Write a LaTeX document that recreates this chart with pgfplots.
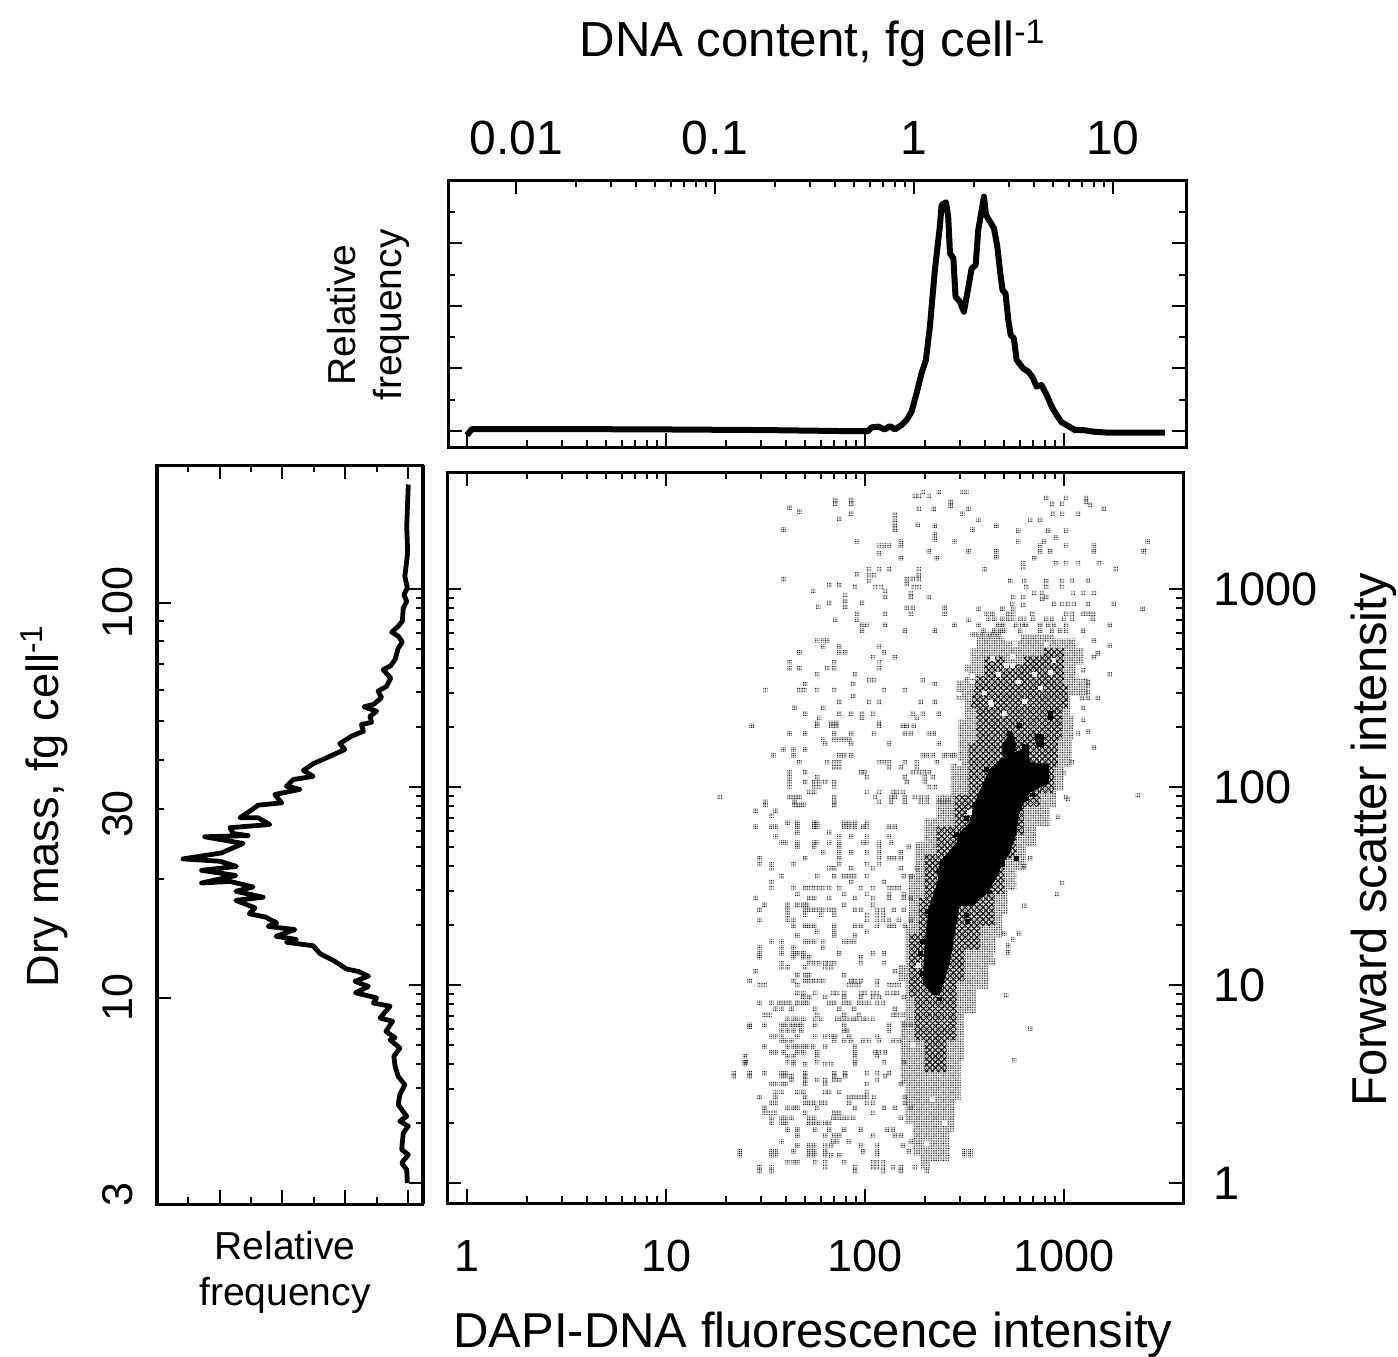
\documentclass[border=0pt]{standalone}
\usepackage{fontspec}
\setmainfont{Liberation Sans}
\usepackage{pgfplots}
\usepackage{pgfplotstable}
\usetikzlibrary{patterns.meta}
\pgfplotsset{compat=1.18}
% one histogram cell, printed as a small halftone of dots
\pgfdeclareplotmark{cell}{%
  \pgfpathrectangle{\pgfpoint{-1.075pt}{-1.075pt}}{\pgfpoint{0.45pt}{0.45pt}}%
  \pgfpathrectangle{\pgfpoint{-0.225pt}{-1.075pt}}{\pgfpoint{0.45pt}{0.45pt}}%
  \pgfpathrectangle{\pgfpoint{0.625pt}{-1.075pt}}{\pgfpoint{0.45pt}{0.45pt}}%
  \pgfpathrectangle{\pgfpoint{-1.075pt}{-0.225pt}}{\pgfpoint{0.45pt}{0.45pt}}%
  \pgfpathrectangle{\pgfpoint{-0.225pt}{-0.225pt}}{\pgfpoint{0.45pt}{0.45pt}}%
  \pgfpathrectangle{\pgfpoint{0.625pt}{-0.225pt}}{\pgfpoint{0.45pt}{0.45pt}}%
  \pgfpathrectangle{\pgfpoint{-1.075pt}{0.625pt}}{\pgfpoint{0.45pt}{0.45pt}}%
  \pgfpathrectangle{\pgfpoint{-0.225pt}{0.625pt}}{\pgfpoint{0.45pt}{0.45pt}}%
  \pgfpathrectangle{\pgfpoint{0.625pt}{0.625pt}}{\pgfpoint{0.45pt}{0.45pt}}%
  \pgfusepathqfill}
\pgfdeclareplotmark{solidcell}{%
  \pgfpathrectangle{\pgfpoint{-1.2pt}{-1.2pt}}{\pgfpoint{2.4pt}{2.4pt}}\pgfusepathqfill}
% scattered cells of the cytogram: log10 DAPI intensity, log10 forward scatter
\pgfplotstableread[row sep=crcr]{
x y\\
2.29 3.49\\ 2.37 3.49\\ 2.49 3.49\\ 2.51 3.49\\ 2.25 3.47\\ 2.27 3.47\\ 2.32 3.47\\
1.85 3.45\\ 1.85 3.43\\ 1.93 3.45\\ 1.93 3.43\\ 2.43 3.44\\ 2.43 3.42\\
1.62 3.41\\ 1.67 3.39\\ 1.93 3.38\\ 2.27 3.405\\ 2.345 3.405\\ 2.49 3.38\\ 2.52 3.405\\
2.15 3.375\\ 2.15 3.35\\ 2.15 3.325\\ 2.15 3.30\\ 1.87 3.355\\ 2.265 3.325\\ 2.35 3.32\\ 2.57 3.35\\ 2.54 3.30\\ 2.66 3.32\\
1.59 3.30\\ 1.96 3.24\\ 2.07 3.22\\ 2.095 3.22\\ 2.12 3.22\\ 2.18 3.24\\ 2.18 3.22\\ 2.35 3.275\\ 2.35 3.25\\ 2.45 3.24\\
2.07 3.18\\ 2.32 3.19\\ 2.52 3.19\\ 2.18 3.155\\ 2.36 3.155\\ 2.66 3.19\\ 2.66 3.16\\
2.77 3.295\\ 2.83 3.35\\ 2.88 3.35\\ 2.91 3.46\\ 3.01 3.46\\ 3.11 3.46\\ 3.11 3.44\\ 3.13 3.425\\ 2.94 3.43\\ 2.99 3.43\\ 2.945 3.38\\ 2.99 3.38\\ 3.07 3.38\\ 3.20 3.405\\
2.92 3.295\\ 3.01 3.295\\ 2.96 3.26\\ 2.77 3.24\\ 2.90 3.24\\ 2.88 3.22\\ 2.88 3.19\\ 2.93 3.19\\ 3.01 3.22\\ 3.15 3.22\\ 3.15 3.19\\ 3.42 3.24\\ 3.40 3.19\\
2.795 3.13\\ 2.795 3.11\\ 2.96 3.13\\ 3.01 3.13\\ 3.07 3.13\\ 3.175 3.13\\ 3.26 3.10\\ 2.60 3.10\\ 2.85 3.155\\
2.02 3.10\\ 2.07 3.10\\ 2.12 3.10\\ 2.27 3.10\\ 2.02 3.07\\ 2.045 3.07\\ 1.96 3.075\\ 2.27 3.07\\
2.02 3.04\\ 2.21 3.05\\ 2.24 3.05\\ 2.27 3.05\\ 1.59 3.05\\ 2.05 3.01\\ 2.08 3.01\\ 2.21 3.025\\ 2.245 3.01\\ 2.27 3.01\\ 1.82 3.02\\ 1.87 3.02\\ 1.95 3.01\\ 1.74 2.99\\ 2.10 2.99\\ 1.90 2.97\\ 1.90 2.94\\ 2.10 2.96\\ 2.23 2.98\\ 2.23 2.96\\ 2.32 2.96\\
1.82 2.93\\ 1.765 2.91\\ 1.90 2.91\\ 1.985 2.93\\ 2.21 2.905\\ 2.24 2.905\\ 2.40 2.905\\ 2.40 2.875\\ 2.23 2.875\\ 2.10 2.875\\ 1.85 2.845\\ 1.96 2.875\\ 1.96 2.845\\ 1.985 2.82\\ 2.01 2.82\\ 2.10 2.82\\ 1.985 2.79\\ 2.20 2.79\\ 2.35 2.79\\ 2.45 2.82\\ 2.52 2.845\\
2.73 3.04\\ 2.80 3.04\\ 2.81 3.01\\ 2.91 3.04\\ 2.91 3.01\\ 2.99 3.04\\ 2.99 3.01\\ 3.04 3.04\\ 3.12 3.04\\
2.85 2.98\\ 2.89 2.98\\ 3.045 2.98\\ 3.095 2.98\\ 3.15 2.98\\
2.745 2.96\\ 2.795 2.96\\ 2.795 2.92\\ 2.74 2.925\\ 2.89 2.95\\ 2.91 2.96\\ 2.95 2.925\\ 2.99 2.925\\ 3.02 2.925\\ 3.05 2.925\\ 3.12 2.925\\ 3.25 2.925\\ 3.395 2.90\\ 2.57 2.90\\ 2.69 2.90\\ 2.745 2.90\\
2.61 2.875\\ 2.64 2.875\\ 2.72 2.875\\ 2.745 2.875\\ 2.84 2.875\\ 3.01 2.875\\ 3.04 2.875\\ 3.095 2.875\\ 3.12 2.875\\ 3.145 2.875\\
2.62 2.85\\ 2.65 2.85\\ 2.69 2.85\\ 2.72 2.85\\ 2.745 2.85\\ 2.78 2.85\\ 2.80 2.85\\ 2.845 2.85\\ 2.91 2.85\\ 2.94 2.85\\ 3.00 2.85\\ 3.04 2.85\\ 3.145 2.85\\
2.57 2.82\\ 2.67 2.82\\ 2.695 2.82\\ 2.76 2.82\\ 2.79 2.82\\ 2.81 2.82\\ 2.88 2.82\\ 2.92 2.82\\ 2.95 2.82\\ 3.01 2.82\\ 3.23 2.82\\
2.595 2.79\\ 2.65 2.79\\ 2.68 2.79\\ 2.70 2.79\\ 2.78 2.79\\ 2.88 2.79\\ 2.94 2.79\\ 2.98 2.79\\ 3.01 2.79\\ 3.095 2.79\\
2.54 2.77\\ 2.56 2.77\\ 2.59 2.77\\ 2.62 2.77\\ 2.645 2.77\\ 2.67 2.77\\
3.15 2.74\\ 3.23 2.715\\ 3.17 2.675\\ 3.15 2.655\\ 3.095 2.59\\ 3.23 2.57\\ 3.12 2.53\\ 3.12 2.51\\ 3.12 2.48\\ 3.09 2.45\\ 3.12 2.45\\ 3.17 2.45\\ 3.095 2.40\\ 3.095 2.34\\ 3.12 2.28\\ 3.07 2.27\\ 3.15 2.20\\ 3.04 2.125\\ 3.00 2.07\\ 3.01 1.95\\
1.76 2.74\\ 1.79 2.74\\ 1.81 2.74\\ 1.79 2.71\\ 1.87 2.71\\ 2.07 2.71\\ 1.67 2.68\\ 1.87 2.68\\ 1.90 2.68\\ 2.095 2.68\\ 2.04 2.655\\ 2.15 2.655\\
1.62 2.63\\ 1.845 2.63\\ 2.07 2.63\\ 1.62 2.60\\ 1.67 2.60\\ 1.81 2.60\\ 1.845 2.60\\ 2.07 2.60\\ 1.76 2.57\\ 1.95 2.57\\ 2.02 2.54\\ 2.045 2.54\\ 2.29 2.54\\ 1.70 2.52\\ 1.94 2.52\\ 2.35 2.52\\
1.50 2.49\\ 1.67 2.49\\ 1.695 2.49\\ 1.76 2.49\\ 1.845 2.49\\ 2.095 2.49\\ 2.20 2.49\\ 1.94 2.46\\ 1.87 2.43\\ 2.02 2.43\\ 2.07 2.43\\ 2.28 2.43\\ 2.35 2.43\\ 1.645 2.40\\ 1.79 2.40\\
1.70 2.37\\ 1.87 2.37\\ 1.93 2.37\\ 1.985 2.37\\ 2.04 2.37\\ 2.24 2.37\\ 2.29 2.37\\ 2.37 2.37\\ 1.77 2.35\\ 1.985 2.35\\ 2.26 2.35\\ 1.76 2.325\\ 1.83 2.325\\ 1.855 2.325\\ 2.07 2.325\\
1.43 2.31\\ 1.76 2.31\\ 1.83 2.31\\ 1.855 2.31\\ 2.07 2.31\\ 2.19 2.31\\ 2.21 2.31\\ 2.245 2.31\\
1.62 2.27\\ 1.70 2.27\\ 1.845 2.27\\ 1.93 2.27\\ 2.045 2.27\\ 2.20 2.27\\ 2.23 2.27\\ 2.32 2.27\\ 2.345 2.27\\ 1.79 2.24\\ 1.845 2.24\\ 1.87 2.24\\ 1.895 2.24\\ 1.92 2.24\\ 1.80 2.22\\ 1.93 2.22\\ 2.12 2.22\\ 2.37 2.22\\
1.59 2.19\\ 1.64 2.19\\ 1.70 2.19\\ 1.54 2.16\\ 1.64 2.16\\ 1.87 2.16\\ 1.895 2.16\\ 1.93 2.16\\ 2.29 2.16\\ 2.31 2.16\\ 2.34 2.16\\ 2.40 2.16\\ 2.43 2.16\\ 2.45 2.16\\
1.67 2.125\\ 1.81 2.125\\ 1.845 2.125\\ 1.87 2.125\\ 2.07 2.125\\ 2.095 2.125\\ 2.12 2.125\\ 2.20 2.125\\ 2.26 2.125\\ 2.36 2.125\\ 1.845 2.10\\ 1.87 2.10\\ 2.12 2.10\\ 2.18 2.10\\ 2.26 2.10\\
1.62 2.075\\ 1.70 2.075\\ 1.98 2.075\\ 2.00 2.075\\ 2.24 2.075\\ 2.27 2.075\\ 2.295 2.075\\ 2.32 2.075\\ 1.62 2.05\\ 1.76 2.05\\ 2.01 2.05\\ 2.20 2.05\\ 2.30 2.05\\ 2.34 2.05\\
1.62 2.025\\ 1.70 2.025\\ 1.745 2.025\\ 1.77 2.025\\ 1.80 2.025\\ 1.845 2.025\\ 2.21 2.025\\ 2.30 2.025\\ 1.62 2.00\\ 1.745 2.00\\ 1.77 2.00\\ 1.845 2.00\\ 2.32 2.00\\ 2.35 2.00\\
1.72 1.975\\ 1.745 1.975\\ 2.01 1.975\\ 2.07 1.975\\ 2.14 1.975\\ 2.16 1.975\\ 2.19 1.975\\ 1.62 1.95\\ 1.645 1.95\\ 1.67 1.95\\ 1.845 1.95\\ 2.05 1.95\\ 2.13 1.95\\ 2.15 1.95\\ 2.20 1.95\\ 2.25 1.95\\ 2.28 1.95\\ 2.31 1.95\\
1.50 1.925\\ 1.645 1.925\\ 1.845 1.925\\ 2.07 1.925\\ 2.13 1.925\\ 2.20 1.925\\ 2.28 1.925\\ 2.31 1.925\\ 2.37 1.925\\ 2.395 1.925\\ 2.42 1.925\\
1.50 1.91\\ 1.645 1.91\\ 1.67 1.91\\ 1.69 1.91\\ 1.845 1.91\\
1.45 1.88\\ 1.55 1.88\\ 1.53 1.855\\
1.61 1.82\\ 1.66 1.82\\ 1.745 1.82\\ 1.76 1.82\\ 1.895 1.82\\ 1.92 1.82\\ 1.95 1.82\\ 2.01 1.82\\
1.45 1.80\\ 1.53 1.80\\ 1.55 1.80\\ 1.66 1.80\\ 1.745 1.80\\ 1.76 1.80\\ 1.895 1.80\\ 1.92 1.80\\ 1.95 1.80\\ 1.99 1.80\\ 2.01 1.80\\ 2.12 1.80\\ 2.15 1.80\\
1.66 1.77\\ 1.82 1.77\\ 1.55 1.75\\ 1.87 1.75\\ 1.93 1.75\\ 2.01 1.75\\ 2.12 1.75\\
1.58 1.72\\ 1.60 1.72\\ 1.66 1.72\\ 1.745 1.72\\ 1.76 1.72\\ 1.82 1.72\\ 1.87 1.72\\ 1.99 1.72\\ 2.01 1.72\\ 2.07 1.72\\ 2.13 1.72\\
1.66 1.70\\ 1.745 1.70\\ 1.87 1.70\\ 2.07 1.70\\ 2.22 1.70\\
1.79 1.67\\ 1.87 1.67\\ 1.93 1.67\\ 2.01 1.67\\ 2.07 1.67\\ 2.18 1.67\\
1.47 1.64\\ 1.70 1.64\\ 1.87 1.64\\ 2.07 1.64\\ 2.12 1.64\\ 2.145 1.64\\ 2.18 1.64\\
1.47 1.61\\ 1.53 1.61\\ 1.64 1.61\\ 1.87 1.61\\ 2.01 1.61\\ 2.07 1.61\\
1.53 1.59\\ 1.82 1.59\\ 1.845 1.59\\ 1.93 1.59\\ 2.04 1.59\\ 2.18 1.59\\ 2.26 1.59\\
1.58 1.55\\ 1.76 1.55\\ 1.845 1.55\\ 1.895 1.55\\ 1.92 1.55\\ 1.945 1.55\\ 2.01 1.55\\ 2.195 1.55\\ 2.23 1.55\\
1.53 1.52\\ 1.93 1.52\\ 2.095 1.52\\
1.53 1.49\\ 1.64 1.49\\ 1.70 1.49\\ 1.72 1.49\\ 1.745 1.49\\ 1.77 1.49\\ 1.79 1.49\\ 1.82 1.49\\ 1.87 1.49\\ 1.98 1.49\\ 2.04 1.49\\ 2.12 1.49\\ 2.145 1.49\\ 2.17 1.49\\
1.66 1.46\\ 1.895 1.46\\ 2.01 1.46\\ 2.12 1.46\\ 2.195 1.46\\
1.45 1.44\\ 1.72 1.44\\ 1.745 1.44\\ 1.82 1.44\\ 1.95 1.44\\ 2.04 1.44\\ 2.12 1.44\\ 2.195 1.44\\ 2.23 1.44\\
1.495 1.405\\ 1.61 1.405\\ 1.66 1.405\\ 1.69 1.405\\ 1.71 1.405\\ 1.895 1.405\\ 2.04 1.405\\
1.47 1.38\\ 1.61 1.38\\ 1.70 1.38\\ 1.72 1.38\\ 1.745 1.38\\ 1.77 1.38\\ 1.79 1.38\\ 1.82 1.38\\ 1.845 1.38\\ 1.95 1.38\\ 1.98 1.38\\ 2.06 1.38\\ 2.09 1.38\\ 2.145 1.38\\ 2.195 1.38\\
1.61 1.355\\ 1.70 1.355\\ 1.78 1.355\\ 1.845 1.355\\ 2.01 1.355\\ 2.06 1.355\\ 2.09 1.355\\
1.47 1.33\\ 1.61 1.33\\ 1.64 1.33\\ 2.01 1.33\\ 2.06 1.33\\ 2.09 1.33\\ 2.12 1.33\\ 2.17 1.33\\ 2.23 1.33\\
1.64 1.30\\ 1.70 1.30\\ 1.72 1.30\\ 1.745 1.30\\ 1.845 1.30\\ 1.95 1.30\\ 1.98 1.30\\ 2.06 1.30\\ 2.12 1.30\\ 2.145 1.30\\ 2.20 1.30\\
1.76 1.27\\ 1.845 1.27\\ 2.01 1.27\\ 1.66 1.25\\ 1.845 1.25\\ 1.95 1.25\\
1.53 1.22\\ 1.58 1.22\\ 1.70 1.22\\ 1.72 1.22\\ 1.745 1.22\\ 1.79 1.22\\ 1.895 1.22\\ 1.92 1.22\\ 1.945 1.22\\
1.47 1.19\\ 1.58 1.19\\ 1.64 1.19\\ 1.79 1.19\\
1.47 1.16\\ 1.58 1.16\\ 1.64 1.16\\ 1.66 1.16\\ 1.69 1.16\\ 1.87 1.16\\ 2.04 1.16\\ 2.095 1.16\\
1.47 1.14\\ 1.64 1.14\\ 1.69 1.14\\ 1.72 1.14\\ 1.98 1.14\\
1.58 1.11\\ 1.72 1.11\\ 1.745 1.11\\ 1.77 1.11\\ 1.80 1.11\\ 1.82 1.11\\ 1.845 1.11\\ 1.98 1.11\\ 2.095 1.11\\
1.58 1.09\\ 1.61 1.09\\ 1.70 1.09\\ 1.80 1.09\\ 1.83 1.09\\ 1.45 1.07\\ 2.15 1.07\\
1.66 1.05\\ 1.70 1.05\\ 1.72 1.05\\ 1.895 1.05\\
1.42 1.02\\ 1.64 1.02\\ 1.70 1.02\\ 1.72 1.02\\ 1.745 1.02\\ 1.77 1.02\\ 1.79 1.02\\ 1.93 1.02\\ 1.95 1.02\\ 1.98 1.02\\ 2.06 1.02\\
1.47 1.00\\ 1.495 1.00\\ 1.66 1.00\\ 1.92 1.00\\ 1.945 1.00\\ 1.97 1.00\\ 2.06 1.00\\ 2.12 1.00\\ 2.145 1.00\\ 2.17 1.00\\
1.66 .96\\ 1.69 .96\\ 1.75 .96\\ 1.84 .96\\ 1.86 .96\\ 1.895 .96\\ 1.98 .96\\ 2.00 .96\\ 2.04 .96\\ 2.06 .96\\ 2.11 .96\\ 2.14 .96\\ 2.16 .96\\
1.69 .94\\ 1.72 .94\\ 1.80 .94\\ 1.895 .94\\ 1.98 .94\\ 2.04 .94\\ 2.07 .94\\ 2.195 .94\\
1.47 .91\\ 1.53 .91\\ 1.57 .91\\ 1.595 .91\\ 1.62 .91\\ 1.66 .91\\ 1.69 .91\\ 1.71 .91\\ 1.82 .91\\ 1.845 .91\\ 1.895 .91\\ 1.92 .91\\ 1.97 .91\\ 1.995 .91\\ 2.02 .91\\ 2.06 .91\\ 2.09 .91\\
1.55 .88\\ 1.58 .88\\ 1.63 .88\\ 1.75 .88\\ 1.87 .88\\ 1.945 .88\\ 2.15 .88\\
1.495 .85\\ 1.52 .85\\ 1.76 .85\\ 1.895 .85\\ 1.97 .85\\ 2.14 .85\\ 2.16 .85\\ 2.19 .85\\
1.61 .83\\ 1.64 .83\\ 1.66 .83\\ 1.69 .83\\ 1.75 .83\\ 1.78 .83\\ 1.86 .83\\ 1.885 .83\\ 1.91 .83\\ 1.94 .83\\ 1.96 .83\\ 1.99 .83\\ 2.01 .83\\ 2.04 .83\\
1.42 .80\\ 1.495 .80\\ 1.58 .80\\ 1.60 .80\\ 1.63 .80\\ 1.655 .80\\ 1.68 .80\\ 1.75 .80\\ 1.895 .80\\ 2.12 .80\\ 2.20 .80\\ 2.23 .80\\
1.58 .77\\ 1.61 .77\\ 1.64 .77\\ 1.68 .77\\ 1.895 .77\\ 1.91 .77\\ 2.12 .77\\
1.53 .74\\ 1.55 .74\\ 1.58 .74\\ 1.66 .74\\ 1.75 .74\\ 1.80 .74\\ 1.83 .74\\ 1.85 .74\\ 1.92 .74\\ 2.06 .74\\
1.58 .72\\ 1.60 .72\\ 1.63 .72\\ 1.845 .72\\ 1.895 .72\\ 1.93 .72\\ 1.99 .72\\ 2.02 .72\\ 2.07 .72\\ 2.14 .72\\ 2.17 .72\\
1.495 .69\\ 1.61 .69\\ 1.64 .69\\ 1.66 .69\\ 1.69 .69\\ 1.71 .69\\ 1.74 .69\\ 1.80 .69\\ 1.95 .69\\
1.53 .66\\ 1.55 .66\\ 1.59 .66\\ 1.66 .66\\ 1.69 .66\\ 1.76 .66\\ 1.95 .66\\ 2.05 .66\\ 2.07 .66\\ 2.10 .66\\
1.395 .64\\ 1.61 .64\\ 1.64 .64\\ 1.76 .64\\ 1.95 .64\\ 2.06 .64\\
1.395 .61\\ 1.61 .61\\ 1.64 .61\\ 1.76 .61\\ 1.95 .61\\ 2.095 .61\\ 2.195 .61\\
1.395 .60\\ 1.64 .60\\ 1.70 .60\\ 1.80 .60\\ 1.83 .60\\ 1.95 .60\\
1.34 .555\\ 1.42 .555\\ 1.495 .555\\ 1.58 .555\\ 1.60 .555\\ 1.70 .555\\ 1.845 .555\\ 1.90 .555\\ 2.01 .555\\ 2.06 .555\\ 2.12 .555\\
1.58 .54\\ 1.60 .54\\ 1.63 .54\\ 1.70 .54\\ 1.845 .54\\ 1.90 .54\\ 2.10 .54\\
1.63 .52\\ 1.70 .52\\ 1.76 .52\\ 1.80 .52\\ 1.845 .52\\ 1.87 .52\\ 2.06 .52\\
1.53 .50\\ 1.55 .50\\ 1.58 .50\\ 1.60 .50\\ 1.70 .50\\ 1.80 .50\\ 2.01 .50\\ 2.18 .50\\
1.55 .46\\ 1.58 .46\\ 1.66 .46\\ 1.69 .46\\ 1.80 .46\\ 1.82 .46\\ 1.87 .46\\ 2.01 .46\\
1.47 .435\\ 1.55 .435\\ 1.70 .435\\ 1.92 .435\\ 1.945 .435\\ 1.97 .435\\ 1.995 .435\\ 2.01 .435\\ 2.045 .435\\ 2.20 .435\\
1.53 .405\\ 1.55 .405\\ 1.70 .405\\ 1.72 .405\\ 1.745 .405\\ 1.78 .405\\ 1.80 .405\\ 1.92 .405\\ 2.01 .405\\ 2.04 .405\\ 2.20 .405\\
1.495 .38\\ 1.61 .38\\ 1.64 .38\\ 1.66 .38\\ 1.76 .38\\ 1.95 .38\\ 2.095 .38\\ 2.15 .38\\ 2.23 .38\\
1.495 .355\\ 1.52 .355\\ 1.545 .355\\ 1.70 .355\\ 1.845 .355\\ 1.87 .355\\ 2.04 .355\\
1.53 .33\\ 1.58 .33\\ 1.60 .33\\ 1.63 .33\\ 1.72 .33\\ 1.745 .33\\ 1.84 .33\\ 1.86 .33\\ 1.885 .33\\ 1.91 .33\\ 1.94 .33\\ 2.18 .33\\
1.53 .305\\ 1.58 .305\\ 1.60 .305\\ 1.72 .305\\ 1.745 .305\\ 1.77 .305\\ 1.80 .305\\ 1.82 .305\\
1.61 .27\\ 1.66 .27\\ 1.75 .27\\ 1.82 .27\\ 1.895 .27\\ 1.98 .27\\ 2.11 .27\\ 2.14 .27\\
1.66 .24\\ 1.80 .24\\ 1.845 .24\\ 1.87 .24\\ 2.04 .24\\ 2.15 .24\\ 2.18 .24\\
1.58 .21\\ 1.84 .21\\ 1.86 .21\\ 1.92 .21\\ 2.23 .21\\
1.66 .19\\ 1.72 .19\\ 1.745 .19\\ 1.80 .19\\ 1.83 .19\\ 1.98 .19\\ 2.06 .19\\ 2.19 .19\\
1.37 .16\\ 1.53 .16\\ 1.55 .16\\ 1.64 .16\\ 1.72 .16\\ 1.745 .16\\ 1.80 .16\\ 1.99 .16\\ 2.06 .16\\ 2.22 .16\\ 2.50 .16\\ 2.53 .16\\
1.37 .14\\ 1.53 .14\\ 1.55 .14\\ 1.72 .14\\ 1.745 .14\\ 1.80 .14\\ 1.83 .14\\ 1.87 .14\\ 2.06 .14\\ 2.50 .14\\ 2.53 .14\\
1.61 .105\\ 1.64 .105\\ 1.66 .105\\ 1.75 .105\\ 1.80 .105\\ 1.895 .105\\ 2.04 .105\\ 2.06 .105\\ 2.09 .105\\
1.47 .08\\ 1.53 .08\\ 1.80 .08\\ 1.95 .08\\ 2.04 .08\\ 2.06 .08\\ 2.09 .08\\ 2.14 .08\\ 2.18 .08\\ 2.25 .08\\
1.47 .06\\ 1.53 .06\\ 1.95 .06\\ 2.09 .06\\ 2.18 .06\\ 2.31 .06\\
3.37 1.96\\ 3.02 1.94\\ 2.97 1.85\\ 2.99 1.515\\ 2.965 1.46\\ 2.80 1.40\\ 2.83 1.64\\ 2.80 1.60\\ 2.70 1.26\\ 2.775 1.26\\ 2.745 1.23\\ 2.72 1.20\\ 2.72 1.165\\ 2.71 .95\\ 2.83 .78\\ 2.75 .62\\
1.27 1.95\\ 1.42 .79\\ 1.40 .61\\ 1.34 .54\\ 1.42 .54\\
}\cellsTable
% outlines of the regions of increasing density (log10 units)
\pgfplotstableread[row sep=crcr]{
x y\\
2.50 2.62\\ 2.53 2.62\\ 2.53 2.70\\ 2.56 2.70\\ 2.56 2.76\\ 2.70 2.76\\ 2.70 2.74\\ 2.78 2.74\\ 2.78 2.77\\ 2.95 2.77\\ 2.95 2.75\\ 3.06 2.75\\ 3.06 2.70\\ 3.10 2.70\\ 3.10 2.62\\ 3.06 2.62\\ 3.06 2.55\\ 3.12 2.55\\ 3.12 2.46\\ 3.03 2.46\\ 3.03 2.36\\ 3.05 2.36\\ 3.05 2.24\\ 3.04 2.24\\ 3.04 2.10\\ 3.00 2.10\\ 3.00 1.98\\ 2.96 1.98\\ 2.96 1.90\\ 2.93 1.90\\ 2.93 1.80\\ 2.86 1.80\\ 2.86 1.70\\ 2.81 1.70\\ 2.81 1.58\\ 2.76 1.58\\ 2.76 1.48\\ 2.72 1.48\\ 2.72 1.36\\ 2.69 1.36\\ 2.69 1.24\\ 2.66 1.24\\ 2.66 1.10\\ 2.62 1.10\\ 2.62 .98\\ 2.56 .98\\ 2.56 .86\\ 2.50 .86\\ 2.50 .62\\ 2.48 .62\\ 2.48 .42\\ 2.45 .42\\ 2.45 .26\\ 2.43 .26\\ 2.43 .11\\ 2.33 .11\\ 2.33 .07\\ 2.28 .07\\ 2.28 .14\\ 2.24 .14\\ 2.24 .30\\ 2.20 .30\\ 2.20 .50\\ 2.18 .50\\ 2.18 .82\\ 2.20 .82\\ 2.20 1.02\\ 2.17 1.02\\ 2.17 1.10\\ 2.20 1.10\\ 2.20 1.30\\ 2.22 1.30\\ 2.22 1.56\\ 2.25 1.56\\ 2.25 1.72\\ 2.30 1.72\\ 2.30 1.84\\ 2.36 1.84\\ 2.36 1.96\\ 2.43 1.96\\ 2.43 2.12\\ 2.47 2.12\\ 2.47 2.34\\ 2.50 2.34\\ 2.50 2.44\\ 2.46 2.44\\ 2.46 2.54\\ 2.50 2.54\\
}\lightTable
\pgfplotstableread[row sep=crcr]{
x y\\
2.56 2.56\\ 2.60 2.56\\ 2.60 2.66\\ 2.70 2.66\\ 2.70 2.62\\ 2.80 2.62\\ 2.80 2.66\\ 2.90 2.66\\ 2.90 2.70\\ 3.00 2.70\\ 3.00 2.52\\ 3.02 2.52\\ 3.02 2.40\\ 2.99 2.40\\ 2.99 2.24\\ 2.97 2.24\\ 2.97 2.10\\ 2.95 2.10\\ 2.95 1.97\\ 2.88 1.97\\ 2.88 1.90\\ 2.80 1.90\\ 2.80 1.76\\ 2.76 1.76\\ 2.76 1.64\\ 2.70 1.64\\ 2.70 1.46\\ 2.65 1.46\\ 2.65 1.30\\ 2.58 1.30\\ 2.58 1.18\\ 2.50 1.18\\ 2.50 1.02\\ 2.46 1.02\\ 2.46 .72\\ 2.41 .72\\ 2.41 .56\\ 2.30 .56\\ 2.30 .72\\ 2.25 .72\\ 2.25 .94\\ 2.22 .94\\ 2.22 1.26\\ 2.27 1.26\\ 2.27 1.44\\ 2.30 1.44\\ 2.30 1.66\\ 2.36 1.66\\ 2.36 1.80\\ 2.45 1.80\\ 2.45 1.96\\ 2.52 1.96\\ 2.52 2.22\\ 2.56 2.22\\ 2.56 2.40\\ 2.53 2.40\\
}\midTable
\pgfplotstableread[row sep=crcr]{
x y\\
2.66 2.12\\ 2.71 2.16\\ 2.79 2.19\\ 2.84 2.12\\ 2.925 2.12\\ 2.925 2.02\\ 2.825 1.97\\ 2.775 1.87\\ 2.76 1.76\\ 2.725 1.66\\ 2.69 1.61\\ 2.66 1.54\\ 2.61 1.46\\ 2.54 1.40\\ 2.475 1.40\\ 2.46 1.31\\ 2.44 1.19\\ 2.425 1.11\\ 2.38 .96\\ 2.34 .95\\ 2.29 1.01\\ 2.30 1.22\\ 2.32 1.39\\ 2.365 1.52\\ 2.375 1.62\\ 2.46 1.72\\ 2.475 1.77\\ 2.525 1.82\\ 2.55 1.92\\ 2.625 2.09\\
}\coreTable
\pgfplotstableread[row sep=crcr]{
x y\\
2.69 2.22\\ 2.74 2.28\\ 2.76 2.215\\ 2.75 2.16\\ 2.69 2.16\\
}\coreA
\pgfplotstableread[row sep=crcr]{
x y\\
2.85 2.27\\ 2.90 2.265\\ 2.90 2.20\\ 2.86 2.21\\
}\coreB
\pgfplotstableread[row sep=crcr]{
x y\\
2.79 2.22\\ 2.825 2.21\\ 2.825 2.14\\ 2.79 2.14\\
}\coreC
% saturated single cells along the edge of the dense core
\pgfplotstableread[row sep=crcr]{
x y\\
2.29 1.22\\ 2.28 1.16\\ 2.29 1.06\\ 2.33 1.01\\ 2.365 .965\\ 2.375 .93\\ 2.35 .96\\ 2.61 2.09\\ 2.55 1.91\\ 2.51 1.84\\ 2.46 1.76\\ 2.39 1.62\\ 2.375 1.58\\ 2.315 1.37\\ 2.69 1.61\\ 2.76 1.64\\ 2.725 1.71\\ 2.81 1.94\\ 2.84 1.96\\ 2.59 1.46\\ 2.625 1.47\\ 2.51 1.35\\ 2.515 1.32\\ 2.81 2.11\\ 2.84 2.11\\ 2.875 2.06\\ 2.91 2.09\\ 2.88 2.215\\ 2.81 2.19\\ 2.775 2.31\\ 2.725 2.27\\ 2.93 2.37\\ 2.93 2.35\\
}\darkTable
\pgfplotstableread[row sep=crcr]{
x y\\
2.54 2.565\\ 2.51 2.57\\ 2.74 2.615\\ 2.71 2.615\\ 2.88 2.50\\ 2.635 2.415\\ 2.475 2.47\\ 2.43 2.42\\ 2.475 2.12\\ 2.525 1.87\\ 2.64 2.65\\ 2.74 2.66\\ 2.63 2.425\\ 2.48 2.57\\ 2.54 2.53\\ 2.80 2.43\\ 2.93 2.58\\ 2.27 1.10\\ 2.24 .70\\ 2.34 .42\\ 2.40 .30\\ 2.31 .20\\ 2.73 1.45\\ 2.66 1.15\\ 2.91 2.72\\ 2.75 2.72\\ 2.95 2.64\\ 2.60 2.475\\ 2.77 2.53\\ 2.49 2.62\\ 2.67 2.57\\ 2.85 2.57\\ 2.70 2.37\\ 2.47 2.42\\
}\holesTable
% DNA histogram: log10 DAPI intensity, relative frequency
\pgfplotstableread[row sep=crcr]{
x y\\
0 -0.13\\ 0.025 0.06\\ 0.6 0.06\\ 1.0 0.05\\ 1.5 0.03\\ 1.874 0\\ 2.016 0\\ 2.033 0.117\\ 2.067 0.14\\ 2.100 0.05\\ 2.125 0.16\\ 2.150 0.05\\ 2.184 0.19\\ 2.209 0.35\\ 2.234 0.62\\ 2.259 1.2\\ 2.284 1.84\\ 2.306 2.27\\ 2.326 3.33\\ 2.351 5.14\\ 2.376 6.53\\ 2.385 7.22\\ 2.407 7.31\\ 2.418 6.85\\ 2.427 5.68\\ 2.444 5.52\\ 2.455 4.29\\ 2.477 4.13\\ 2.497 3.81\\ 2.514 4.4\\ 2.536 5.2\\ 2.556 5.3\\ 2.569 6.42\\ 2.598 7.49\\ 2.608 6.9\\ 2.628 6.69\\ 2.648 6.48\\ 2.665 5.89\\ 2.678 5.14\\ 2.691 4.5\\ 2.706 4.4\\ 2.72 3.55\\ 2.732 3.07\\ 2.748 2.96\\ 2.762 2.27\\ 2.795 2.0\\ 2.820 1.9\\ 2.842 1.72\\ 2.862 1.42\\ 2.887 1.47\\ 2.913 1.15\\ 2.938 0.78\\ 2.963 0.51\\ 2.988 0.28\\ 3.021 0.16\\ 3.055 0.03\\ 3.097 0.03\\ 3.147 -0.02\\ 3.214 -0.05\\ 3.507 -0.05\\
}\dnaTable
% dry-mass histogram: relative frequency, log10 dry mass
\pgfplotstableread[row sep=crcr]{
x y\\
-0.01 2.299\\ 0.02 2.235\\ 0.04 2.193\\ 0.01 2.126\\ 0.10 2.067\\ 0.02 2.037\\ 0.13 2.020\\ 0.04 2.003\\ 0.15 1.986\\ 0.18 1.953\\ 0.31 1.940\\ 0.52 1.925\\ 0.31 1.915\\ 0.18 1.900\\ 0.31 1.885\\ 0.41 1.856\\ 0.55 1.840\\ 0.79 1.830\\ 0.55 1.809\\ 0.68 1.788\\ 0.95 1.776\\ 0.84 1.759\\ 1.10 1.742\\ 1.40 1.736\\ 1.00 1.725\\ 1.21 1.712\\ 1.16 1.697\\ 1.48 1.691\\ 1.42 1.674\\ 1.79 1.662\\ 2.17 1.643\\ 2.01 1.628\\ 2.48 1.611\\ 3.02 1.592\\ 3.33 1.575\\ 3.02 1.560\\ 3.65 1.552\\ 3.87 1.535\\ 3.44 1.527\\ 4.24 1.514\\ 4.02 1.493\\ 4.77 1.487\\ 5.03 1.472\\ 5.35 1.455\\ 4.77 1.455\\ 4.40 1.438\\ 5.67 1.430\\ 5.56 1.415\\ 5.09 1.410\\ 6.47 1.407\\
5.25 1.390\\ 5.94 1.366\\ 7.16 1.351\\ 5.99 1.345\\ 5.46 1.332\\ 6.57 1.322\\ 5.48 1.309\\ 6.57 1.290\\ 5.67 1.294\\ 4.93 1.280\\ 5.48 1.269\\ 4.61 1.254\\ 5.48 1.246\\ 4.87 1.227\\ 5.05 1.212\\ 4.55 1.204\\ 4.18 1.189\\ 4.45 1.180\\ 3.60 1.172\\ 4.20 1.155\\ 3.55 1.147\\ 3.87 1.140\\ 3.02 1.131\\ 2.80 1.111\\ 2.38 1.094\\ 1.95 1.072\\ 1.58 1.066\\ 1.26 1.054\\ 1.69 1.041\\ 1.26 1.028\\ 1.67 1.012\\ 1.00 0.999\\ 1.10 0.986\\ 0.57 0.978\\ 0.89 0.948\\ 0.49 0.940\\ 0.70 0.914\\ 0.41 0.898\\ 0.57 0.893\\ 0.26 0.872\\ 0.45 0.851\\ 0.41 0.826\\ 0.31 0.800\\ 0.10 0.779\\ 0.26 0.754\\ 0.31 0.729\\ 0.04 0.699\\ 0.26 0.687\\ -0.01 0.674\\ 0.15 0.657\\ 0.20 0.615\\ -0.01 0.602\\ 0.20 0.581\\ 0.04 0.564\\ 0.02 0.530\\
}\massTable
\pgfplotsset{
  panel/.style={scale only axis, axis line style={line width=1.5pt},
    tick style={line width=1pt,black}, major tick length=7pt, minor tick length=3.5pt,
    tick align=inside, ticklabel style={font=\fontsize{22.5}{24}\selectfont, inner sep=0pt}},
  table/log10 table/.style={x expr=10^\thisrow{x}, y expr=10^\thisrow{y}},
}
\begin{document}
\begin{tikzpicture}
\useasboundingbox (0,0) rectangle (699pt,-678pt);
% main cytogram
\begin{axis}[panel, at={(223.5pt,-236pt)}, anchor=north west, width=368pt, height=365.5pt,
  xmode=log, ymode=log, xmin=0.793, xmax=3963, ymin=0.793, ymax=3899,
  xtick={1,10,100,1000}, xticklabels={1,10,100,1000}, xtick pos=both, xticklabel pos=bottom,
  ytick={1,10,100,1000}, yticklabels={1,10,100,1000}, ytick pos=both, yticklabel pos=right,
  xticklabel style={anchor=north, yshift=-18.5pt},
  yticklabel style={anchor=west, xshift=15pt, font=\fontsize{23.5}{25}\selectfont}]
\addplot[draw=none, pattern={Dots[distance=0.85pt, radius=0.26pt]}, pattern color=black] table[log10 table] {\lightTable} --cycle;
\addplot[draw=none, pattern={Lines[angle=45, distance=2.1pt, line width=0.42pt]}, pattern color=black] table[log10 table] {\midTable} --cycle;
\addplot[draw=none, pattern={Lines[angle=-45, distance=2.1pt, line width=0.42pt]}, pattern color=black] table[log10 table] {\midTable} --cycle;
\addplot[only marks, white, mark=solidcell] table[log10 table] {\holesTable};
\addplot[fill=black, draw=none] table[log10 table] {\coreTable} --cycle;
\addplot[fill=black, draw=none] table[log10 table] {\coreA} --cycle;
\addplot[fill=black, draw=none] table[log10 table] {\coreB} --cycle;
\addplot[fill=black, draw=none] table[log10 table] {\coreC} --cycle;
\addplot[only marks, black, mark=solidcell] table[log10 table] {\darkTable};
\addplot[only marks, black!85, mark=cell] table[log10 table] {\cellsTable};
\end{axis}
% DNA histogram, lower scale: intensity
\begin{axis}[panel, at={(224pt,-90pt)}, anchor=north west, width=369pt, height=133.5pt,
  xmode=log, xmin=0.803, xmax=4102, ymin=-0.511, ymax=8.02,
  xtick={1,10,100,1000}, xticklabels={}, xtick pos=bottom,
  ytick={0,2,4,6}, minor ytick={1,3,5,7}, yticklabels={}, ytick pos=both]
\addplot[line width=3pt, line join=round, black] table[x expr=10^\thisrow{x}, y=y] {\dnaTable};
\end{axis}
% DNA histogram, upper scale: DNA content
\begin{axis}[panel, at={(224pt,-90pt)}, anchor=north west, width=369pt, height=133.5pt,
  xmode=log, xmin=0.00455, xmax=23.3, ymin=0, ymax=1, hide y axis,
  xtick={0.01,0.1,1,10}, xticklabels={0.01,0.1,1,10}, xtick pos=top, xticklabel pos=top,
  xticklabel style={anchor=south, yshift=12.5pt, font=\fontsize{24}{26}\selectfont}]
\end{axis}
% dry-mass histogram, left scale: dry mass
\begin{axis}[panel, at={(78.5pt,-232.5pt)}, anchor=north west, width=133pt, height=369.5pt,
  x dir=reverse, xmin=-0.478, xmax=7.99, ymode=log, ymin=3, ymax=223,
  xtick={0,2,4,6}, minor xtick={1,3,5,7}, xticklabels={}, xtick pos=both,
  ytick={10,100}, yticklabels={10,100}, ytick pos=left,
  extra y ticks={3,30}, extra y tick labels={\hspace*{9pt}3,30\hspace*{5pt}},
  extra y tick style={major tick length=3.5pt},
  yticklabel style={xshift=-12pt, rotate=90, anchor=south, font=\fontsize{21.5}{23}\selectfont}]
\addplot[line width=2.4pt, line join=round, black] table[x=x, y expr=10^\thisrow{y}] {\massTable};
\end{axis}
% dry-mass histogram, right scale: forward scatter
\begin{axis}[panel, at={(78.5pt,-232.5pt)}, anchor=north west, width=133pt, height=369.5pt,
  xmin=0, xmax=1, hide x axis, ymode=log, ymin=0.783, ymax=4227,
  ytick={1,10,100,1000}, yticklabels={}, ytick pos=right]
\end{axis}
% axis titles
\node[font=\fontsize{24.6}{26}\selectfont, anchor=base] at (406pt,-28pt) {DNA content, fg cell\raisebox{6.5pt}{\fontsize{17}{17}\selectfont -1}};
\node[font=\fontsize{24.5}{26}\selectfont, anchor=base] at (406.5pt,-673.5pt) {DAPI-DNA fluorescence intensity};
\node[font=\fontsize{24.5}{26}\selectfont, anchor=base, rotate=90] at (693pt,-420pt) {Forward scatter intensity};
\node[font=\fontsize{22.6}{24}\selectfont, anchor=base, rotate=90] at (29pt,-403pt) {Dry mass, fg cell\textsuperscript{-1}};
\node[font=\fontsize{19.5}{22}\selectfont, align=center] at (142.5pt,-636pt) {Relative\\[1pt]frequency};
\node[font=\fontsize{19.5}{22}\selectfont, align=center, rotate=90] at (184pt,-157.5pt) {Relative\\[1pt]frequency};
\end{tikzpicture}
\end{document}
